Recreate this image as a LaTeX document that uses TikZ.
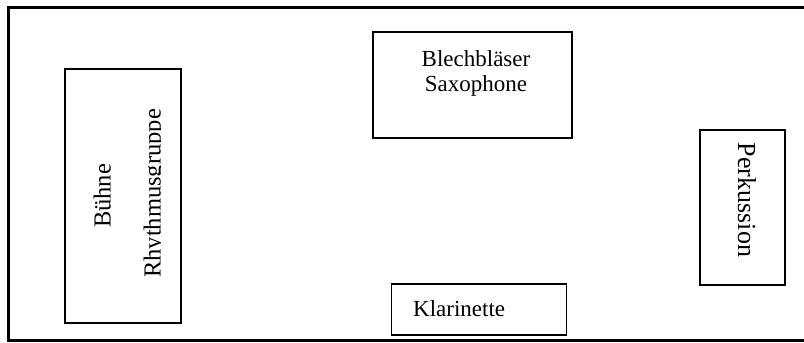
\documentclass[tikz,border=0pt]{standalone}
\usepackage{fontspec}
\setmainfont{Liberation Serif}
\begin{document}
\begin{tikzpicture}[x=1pt,y=-1pt,
  box/.style={draw,line width=1.6pt,inner sep=0pt,fill=none},
  lbl/.style={inner sep=0pt,font=\fontsize{23}{25}\selectfont},
  rotlbl/.style={inner sep=0pt,font=\fontsize{24.5}{26}\selectfont},
  biglbl/.style={inner sep=0pt,font=\fontsize{26}{28}\selectfont}]
\useasboundingbox (0,0) rectangle (804,343);
% outer frame (open on the right)
\coordinate (tr) at (806,7);
\coordinate (tl) at (8,7);
\coordinate (bl) at (8,340);
\coordinate (br) at (806,340);
\draw[line width=3pt] (tr) -- (tl) -- (bl) -- (br);
% boxes
\node[box,minimum width=116pt,minimum height=254pt] (stage) at (123,196) {};
\node[box,minimum width=199pt,minimum height=106pt] (brass) at (472.3,84.8) {};
\node[box,minimum width=85pt,minimum height=155pt] (perc) at (742.5,207.5) {};
\node[box,minimum width=175pt,minimum height=51pt] (clar) at (479,309.5) {};
% labels
\node[rotlbl,rotate=90,anchor=base] (buehne) at (110.5,196) {Bühne};
\begin{scope}
\clip (66,70) rectangle (160.5,322);
\node[rotlbl,rotate=90,anchor=base west] (rhythm) at (160.5,278) {Rhythmusgruppe};
\end{scope}
\node[lbl,anchor=base] (blech) at (476,66.7) {Blechbläser};
\node[lbl,anchor=base] (sax) at (476,91.7) {Saxophone};
\node[biglbl,rotate=-90,anchor=base] (perk) at (738,200) {Perkussion};
\node[lbl,anchor=base west] (klar) at (413,316.7) {Klarinette};
\end{tikzpicture}
\end{document}
